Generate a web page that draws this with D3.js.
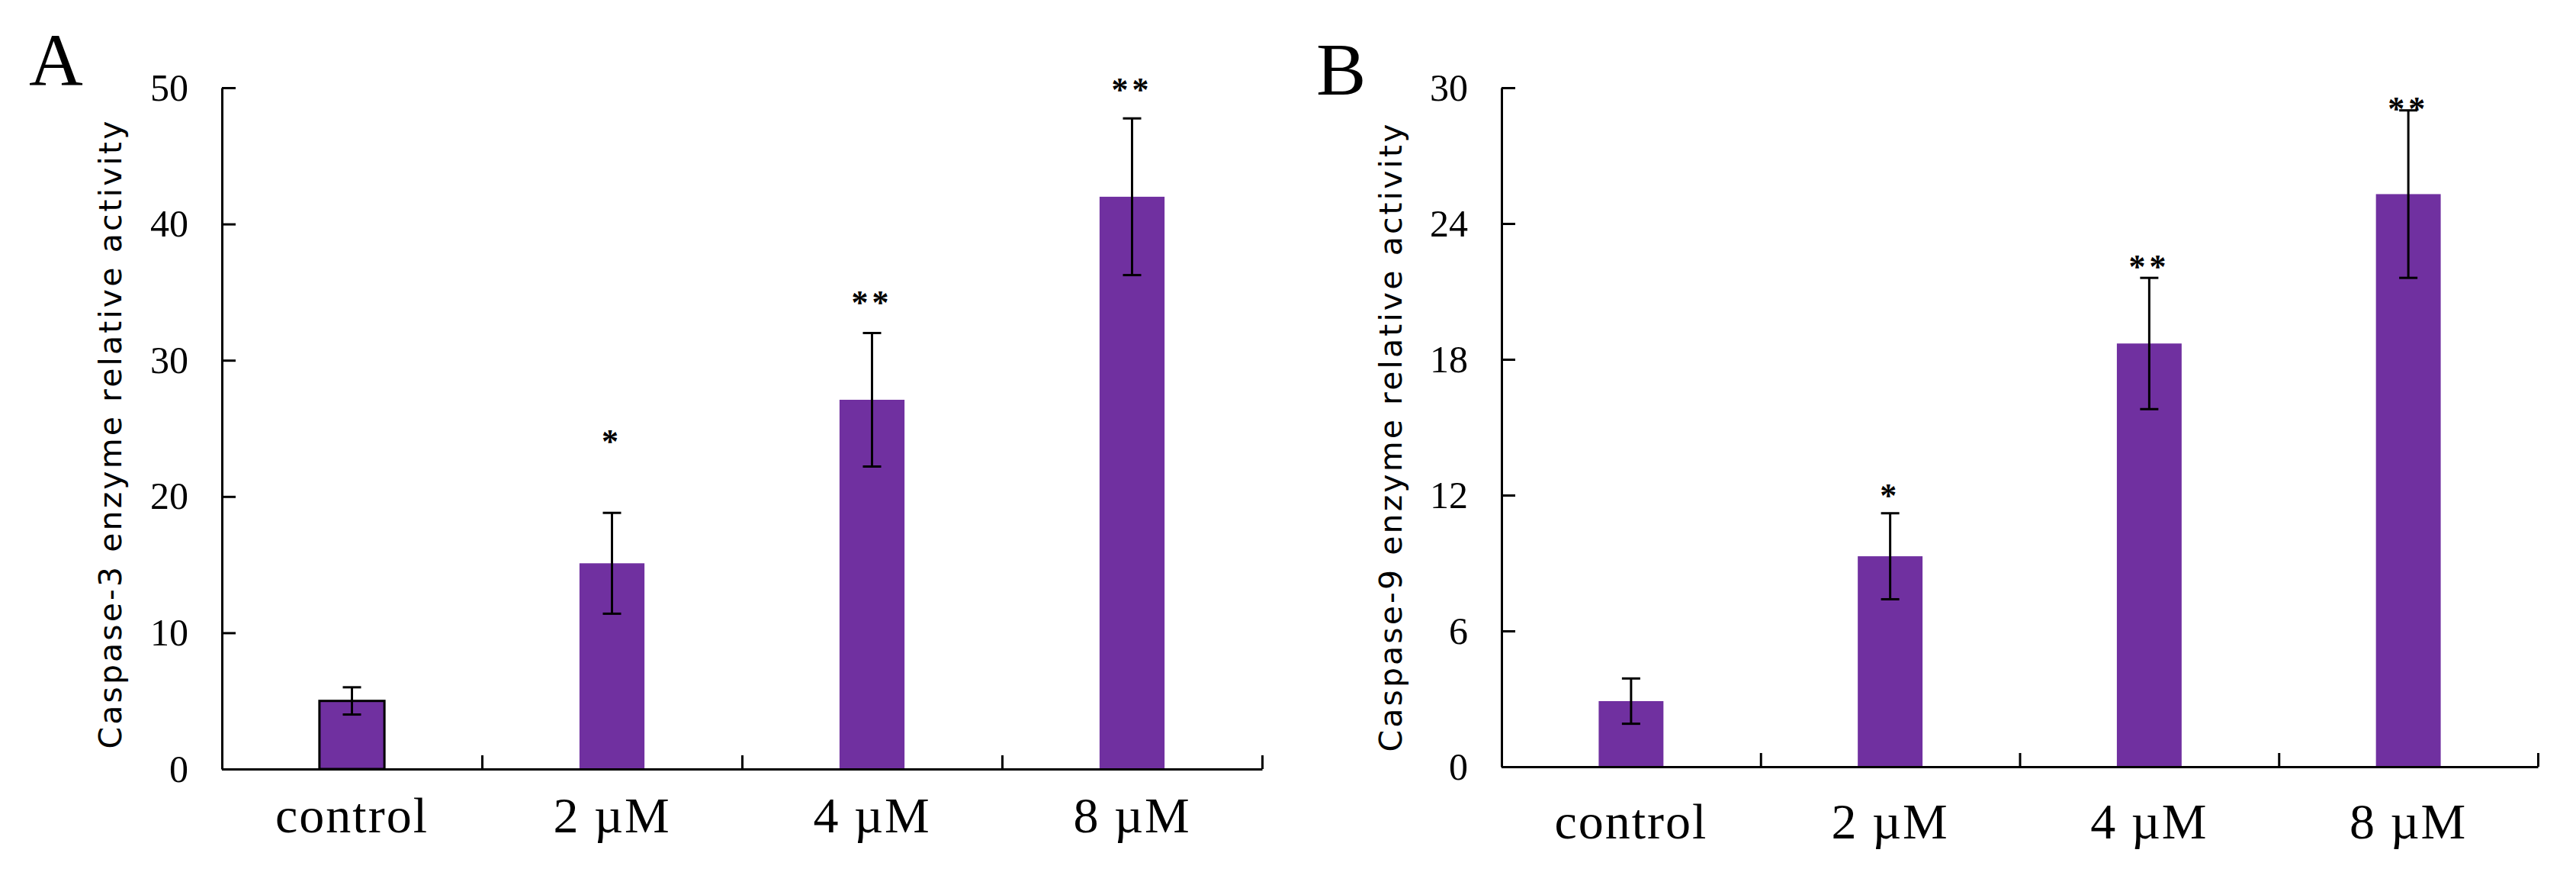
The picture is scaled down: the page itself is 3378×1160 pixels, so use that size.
<!DOCTYPE html>
<html>
<head>
<meta charset="utf-8">
<script src="https://cdn.jsdelivr.net/npm/d3@7/dist/d3.min.js"></script>
<style>
    body { margin: 0; background: #ffffff; }
    svg { display: block; }
</style>
</head>
<body>
<svg id="board" width="3378" height="1160"></svg>
<script>
    // values
    const categories = ["control", "2 \u00b5M", "4 \u00b5M", "8 \u00b5M"];

    const casp3Values = [5.0, 15.1, 27.1, 42.0];
    const casp3Errors = [1.0, 3.7, 4.9, 5.75];
    const casp3Stars = ["", "*", "**", "**"];
    const casp3StarAt = [null, 24.4, 34.6, 50.2];
    const casp3Ticks = [0, 10, 20, 30, 40, 50];

    const casp9Values = [2.9, 9.3, 18.7, 25.3];
    const casp9Errors = [1.0, 1.9, 2.9, 3.7];
    const casp9Stars = ["", "*", "**", "**"];
    const casp9StarAt = [null, 12.2, 22.3, 29.3];
    const casp9Ticks = [0, 6, 12, 18, 24, 30];

    const barColour = "#7030A0";
    const serif = "'Liberation Serif', 'Times New Roman', serif";
    const sans = "'DejaVu Sans', Verdana, sans-serif";

    const svg = d3.select("#board");

    function drawPanel(p) {
        const g = svg.append("g");

        const x = d3.scaleBand()
            .domain(categories)
            .range([p.left, p.right])
            .paddingInner(0.75)
            .paddingOuter(0.375);

        const xEdges = d3.scaleLinear()
            .domain([0, categories.length])
            .range([p.left, p.right]);

        const y = d3.scaleLinear()
            .domain([0, d3.max(p.ticks)])
            .range([p.bottom, p.top]);

        // bars
        g.selectAll("rect.bar")
            .data(p.values)
            .enter().append("rect")
            .attr("class", "bar")
            .attr("x", (d, i) => x(categories[i]))
            .attr("y", d => y(d))
            .attr("width", x.bandwidth())
            .attr("height", d => y(0) - y(d))
            .attr("fill", barColour)
            .attr("stroke", (d, i) => (p.outlineFirst && i === 0) ? "#000" : "none")
            .attr("stroke-width", 3);

        // error bars
        const cap = 12;
        const eb = g.selectAll("g.err")
            .data(p.values)
            .enter().append("g")
            .attr("class", "err")
            .attr("stroke", "#000")
            .attr("stroke-width", 3);
        eb.append("line")
            .attr("x1", (d, i) => x(categories[i]) + x.bandwidth() / 2)
            .attr("x2", (d, i) => x(categories[i]) + x.bandwidth() / 2)
            .attr("y1", (d, i) => y(d + p.errors[i]))
            .attr("y2", (d, i) => y(d - p.errors[i]));
        eb.append("line")
            .attr("x1", (d, i) => x(categories[i]) + x.bandwidth() / 2 - cap)
            .attr("x2", (d, i) => x(categories[i]) + x.bandwidth() / 2 + cap)
            .attr("y1", (d, i) => y(d + p.errors[i]))
            .attr("y2", (d, i) => y(d + p.errors[i]));
        eb.append("line")
            .attr("x1", (d, i) => x(categories[i]) + x.bandwidth() / 2 - cap)
            .attr("x2", (d, i) => x(categories[i]) + x.bandwidth() / 2 + cap)
            .attr("y1", (d, i) => y(d - p.errors[i]))
            .attr("y2", (d, i) => y(d - p.errors[i]));

        // significance stars
        g.selectAll("text.star")
            .data(p.stars)
            .enter().append("text")
            .attr("class", "star")
            .attr("x", (d, i) => x(categories[i]) + x.bandwidth() / 2)
            .attr("y", (d, i) => p.starAt[i] == null ? 0 : y(p.starAt[i]) + 21)
            .attr("text-anchor", "middle")
            .style("font-family", serif)
            .style("font-weight", "bold")
            .style("font-size", "44px")
            .style("letter-spacing", "5px")
            .text(d => d);

        // y axis
        const yAxis = g.append("g")
            .attr("transform", "translate(" + p.left + ",0)")
            .call(d3.axisLeft(y)
                .tickValues(p.ticks)
                .tickSizeInner(-18)
                .tickSizeOuter(0)
                .tickPadding(44));
        yAxis.selectAll("text")
            .style("font-family", serif)
            .style("font-size", "50px")
            .attr("fill", "#000");

        // x axis line with boundary ticks
        g.append("g")
            .attr("transform", "translate(0," + p.bottom + ")")
            .call(d3.axisBottom(xEdges)
                .ticks(categories.length)
                .tickSizeInner(-18)
                .tickSizeOuter(0)
                .tickFormat(""));

        g.selectAll(".domain, .tick line")
            .attr("stroke", "#000")
            .attr("stroke-width", 3);

        // category labels
        g.selectAll("text.cat")
            .data(categories)
            .enter().append("text")
            .attr("class", "cat")
            .attr("x", d => x(d) + x.bandwidth() / 2)
            .attr("y", p.bottom + p.labelGap)
            .attr("text-anchor", "middle")
            .style("font-family", serif)
            .style("font-size", "66px")
            .style("letter-spacing", "2px")
            .text(d => d);

        // y title
        g.append("text")
            .attr("transform", "translate(" + p.titleX + "," + p.titleY + ") rotate(-90)")
            .attr("text-anchor", "middle")
            .attr("textLength", 823)
            .attr("lengthAdjust", "spacing")
            .style("font-family", sans)
            .style("font-size", "41px")
            .text(p.title);

        // panel letter
        g.append("text")
            .attr("x", p.letterX)
            .attr("y", p.letterY)
            .style("font-family", serif)
            .style("font-size", "98px")
            .text(p.letter);
    }

    drawPanel({
        values: casp3Values, errors: casp3Errors, stars: casp3Stars, starAt: casp3StarAt,
        ticks: casp3Ticks, title: "Caspase-3 enzyme relative activity", letter: "A",
        left: 291, right: 1655, top: 115, bottom: 1008, labelGap: 83,
        titleX: 159, titleY: 570, letterX: 38, letterY: 111, outlineFirst: true
    });

    drawPanel({
        values: casp9Values, errors: casp9Errors, stars: casp9Stars, starAt: casp9StarAt,
        ticks: casp9Ticks, title: "Caspase-9 enzyme relative activity", letter: "B",
        left: 1969, right: 3328, top: 115, bottom: 1005, labelGap: 94,
        titleX: 1838, titleY: 574, letterX: 1726, letterY: 124, outlineFirst: false
    });
</script>
</body>
</html>
